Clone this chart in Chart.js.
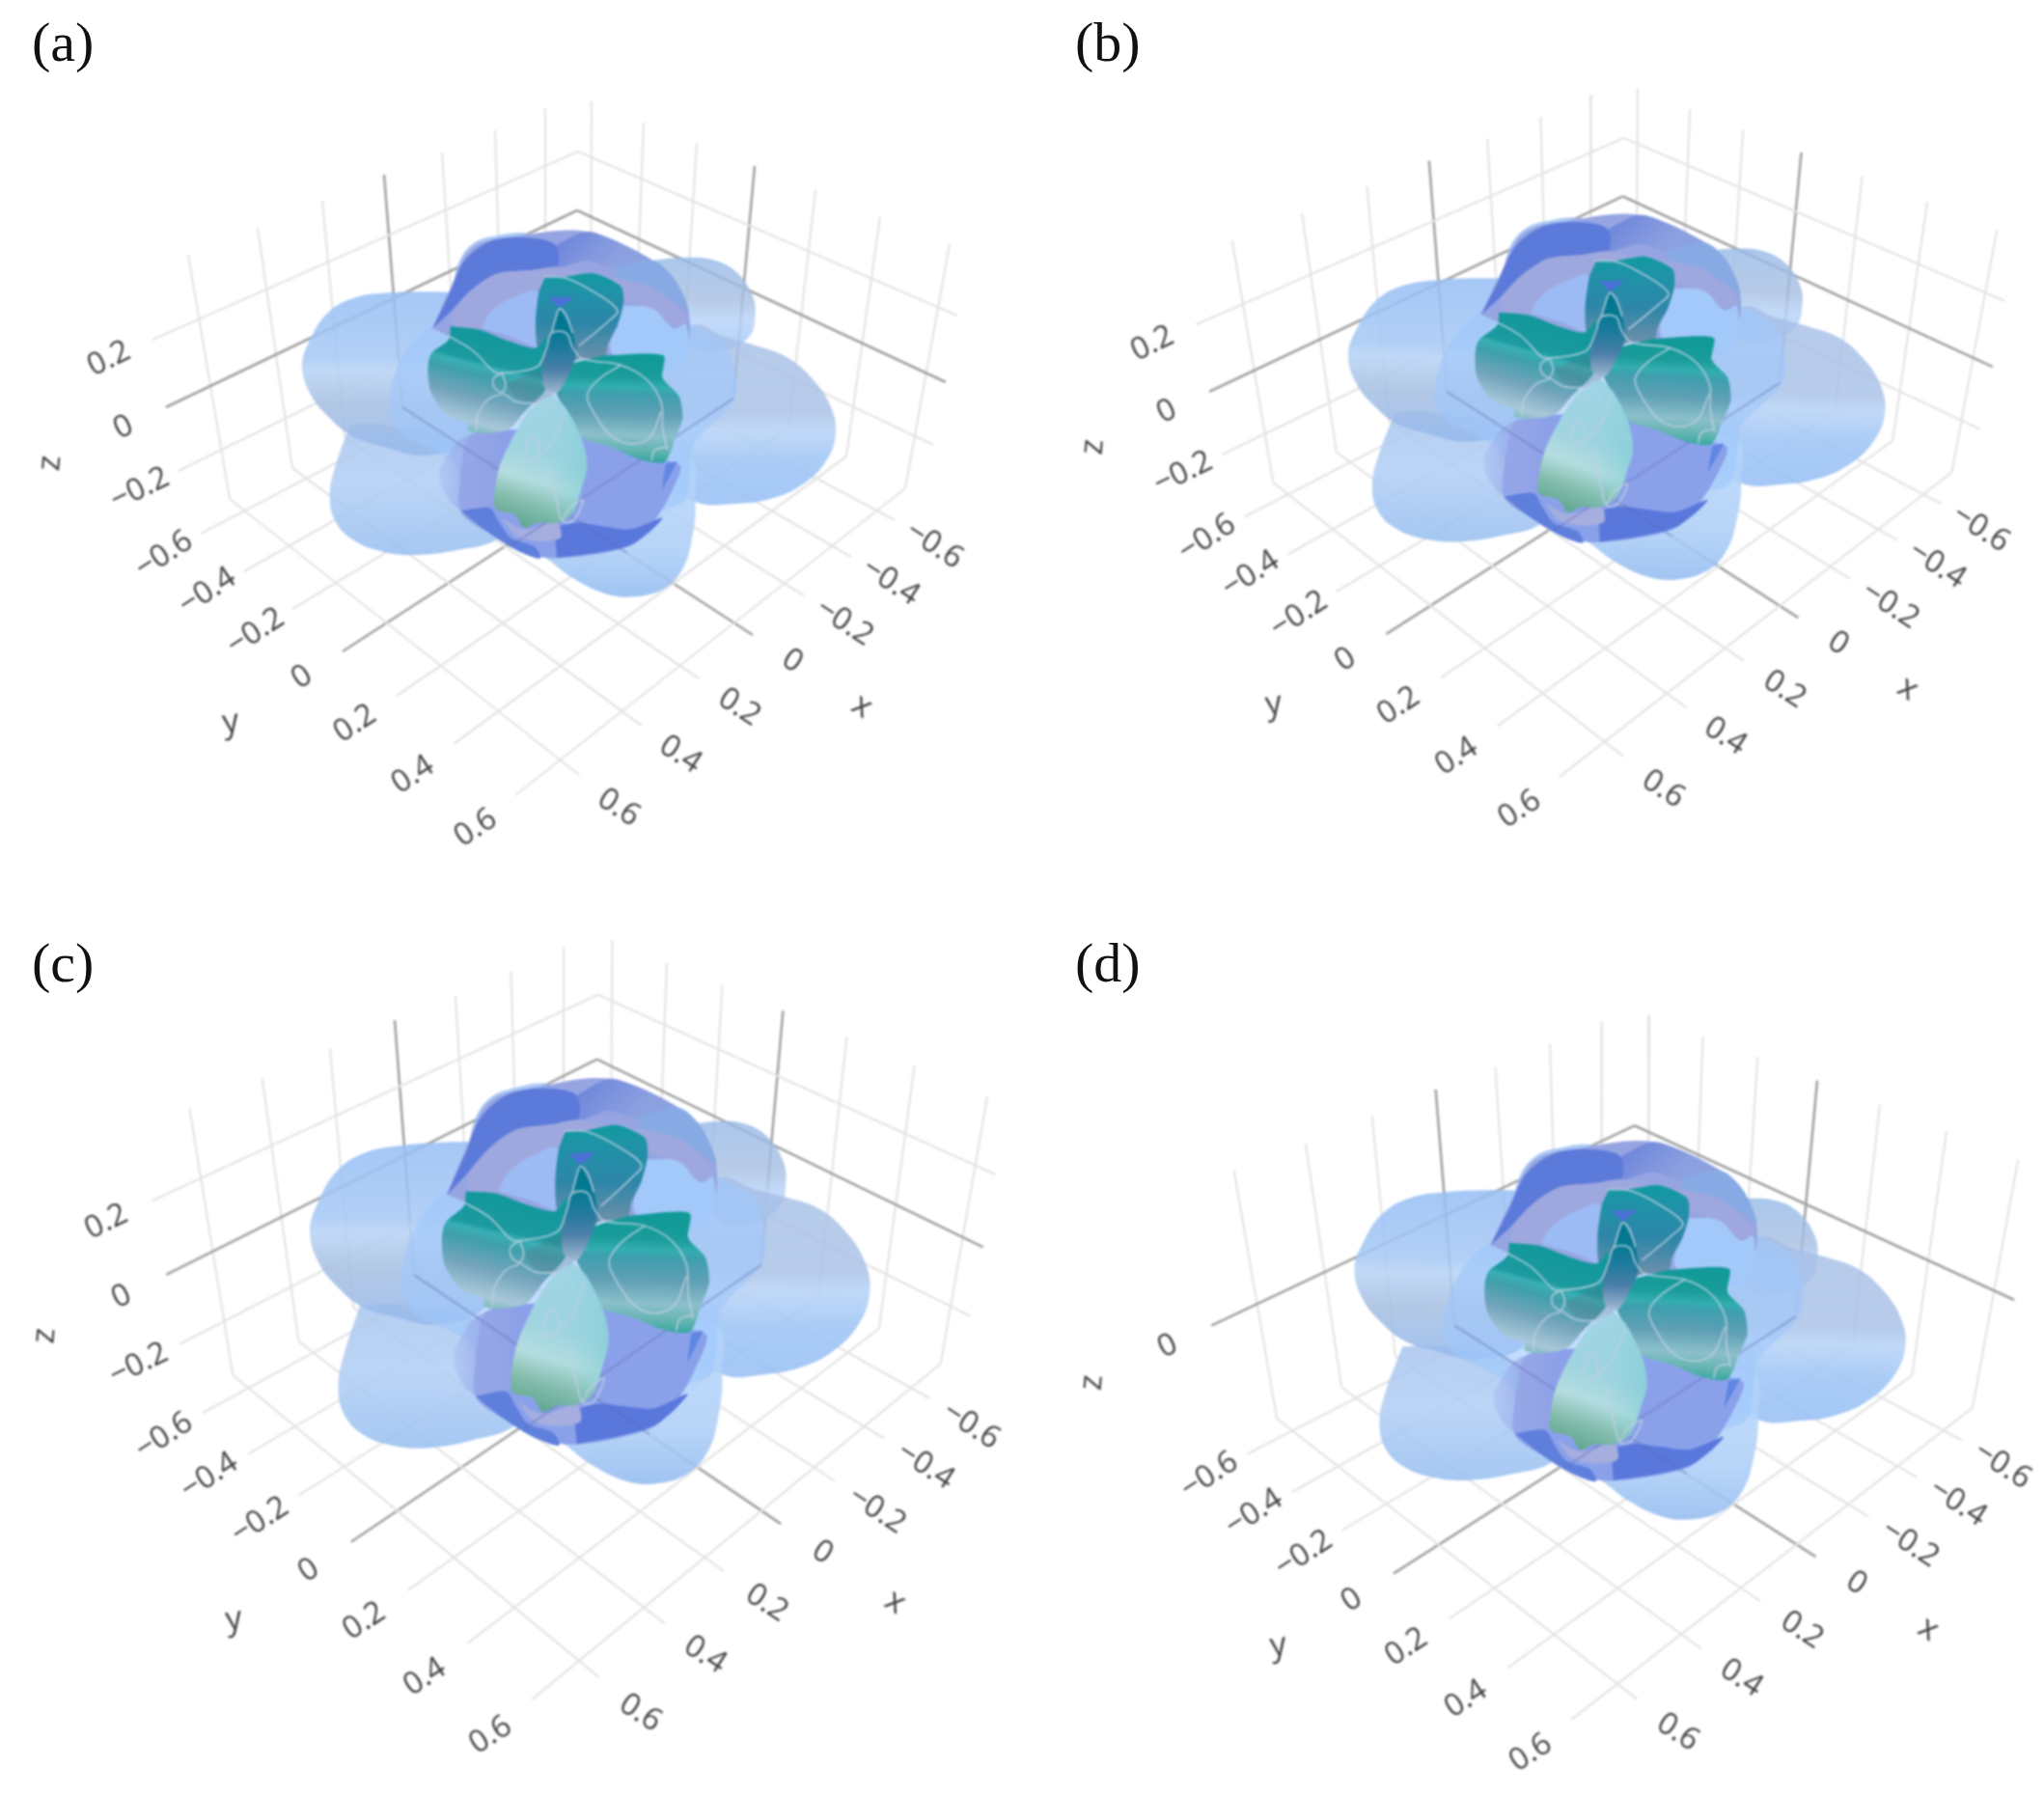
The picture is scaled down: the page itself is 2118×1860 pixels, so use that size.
<!DOCTYPE html>
<html><head><meta charset="utf-8">
<script src="https://cdn.jsdelivr.net/npm/chart.js@4/dist/chart.umd.js"></script>
<style>
html,body{margin:0;padding:0;background:#fff;width:2118px;height:1860px;overflow:hidden}
canvas{position:absolute;filter:blur(0.8px)}
.wrap{position:absolute;width:1059px;height:930px}
.tag{position:absolute;font:58px "Liberation Serif",serif;color:#111;line-height:64px}
</style></head><body>
<script>
// ---------- tick values & labels ----------
const horizontalTicks=[-0.6,-0.4,-0.2,0,0.2,0.4,0.6];
const zTicks=[0.2,0,-0.2];
const panelNames=['(a)','(b)','(c)','(d)'];
const tickText=v=>v<0?'\u2212'+Math.abs(v):String(v);

// ---------- box grid ----------
const xWallTop=[[565,112],[513,135],[458,158],[398,181],[334,208],[267,236],[195,264]];
const xCorner=[[565,345],[520,367],[473,393],[417,422],[357,453],[303,485],[238,517]];
const xEnd=[[927,539],[882,577],[833,617],[780,658],[724,703],[665,752],[600,803]];
const yWallTop=[[613,105],[667,127],[722,148],[782,172],[845,197],[912,224],[984,253]];
const yCorner=[[612,342],[658,363],[707,387],[760,413],[817,443],[877,473],[938,506]];
const yEnd=[[208,553],[253,592],[303,631],[355,675],[411,721],[470,771],[534,824]];
const zLeft=[[158,352],[172,422],[185,488]];
const zBack=[[599,157],[598,218],[597,285]];
const zRight=[[992,327],[980,396],[967,461]];
const xLabelAt=[[968,565],[923,603],[875,645],[821,685],[766,733],[705,782],[641,837]];
const yLabelAt=[[170,575],[215,613],[265,655],[313,702],[368,750],[428,803],[493,858]];
const zLabelAt=[[113,372],[128,443],[145,507]];
const titleAt={x:[893,732],y:[239,749],z:[52,480]};
const xInside=[650,573], yInside=[527,567];

// ---------- view anchors per panel: dark axis ends (L, apex, R, BL, BR, TL, TR) ----------
const gridAnchors=[
 [[172,421],[598,218],[980,396],[355,675],[780,658],[398,181],[782,172]],
 [[1254,405],[1681,204],[2064,380],[1436,656],[1864,641],[1480,167],[1868,157]],
 [[172,1320],[619,1098],[1019,1292],[364,1597],[809,1580],[409,1057],[811,1047]],
 [[1256,1372],[1694,1167],[2087,1347],[1443,1631],[1882,1613],[1487,1129],[1883,1119]]];
// lobes: left, right, top, bottom, lower-left, centre
const shapeAnchors=[
 [[313,380],[866,447],[588,240],[654,618],[342,520],[577,407]],
 [[1395,367],[1951,425],[1684,224],[1738,600],[1423,509],[1657,390]],
 [[322,1280],[901,1333],[612,1123],[680,1536],[350,1450],[595,1307]],
 [[1401,1330],[1971,1393],[1698,1185],[1755,1572],[1430,1483],[1671,1357]]];
// per-panel lobe nudges, px
const lobeNudge={
 upperRight:[[0,0],[-5,10],[0,20],[-8,33]],
 left:[[0,0],[0,0],[0,-12],[0,-18]]};

// ---------- surface outlines (traced in a 2.613x/3y crop of panel a) ----------
const topLobe=[[470,260],[480,170],[520,100],[590,72],[680,68],[760,120],[600,250],[470,260]];
const upperRightLobe=[[1000,150],[1100,140],[1180,150],[1240,190],[1280,260],[1287,320],[1272,385],[1210,425],[1120,420],[1060,300],[1000,150]];
const leftLobe=[[480,250],[400,247],[300,250],[205,265],[130,312],[80,400],[60,480],[85,570],[135,640],[195,695],[270,725],[400,755],[520,700],[560,450],[480,250]];
const rightLobe=[[1050,420],[1120,350],[1200,385],[1290,415],[1375,452],[1440,515],[1490,600],[1505,690],[1475,780],[1410,850],[1330,890],[1240,905],[1125,900],[1010,800],[1050,420]];
const lowerLeftLobe=[[190,660],[150,790],[135,880],[150,960],[200,1020],[280,1055],[370,1065],[480,1050],[590,1015],[680,900],[500,720],[280,660],[190,660]];
const bottomLobe=[[640,1020],[720,1075],[790,1135],[880,1185],[960,1195],[1040,1170],[1090,1110],[1115,1020],[1125,900],[1105,760],[850,800],[640,1020]];
const centerHalo=[[290,620],[310,500],[360,400],[420,340],[480,250],[600,200],[800,200],[1000,250],[1100,340],[1210,420],[1232,580],[1120,720],[1112,800],[1095,900],[1030,930],[1000,1000],[800,1050],[550,950],[470,780],[400,730],[330,690],[290,620]];
const shellTop=[[412,360],[460,240],[520,110],[640,75],[830,60],[1010,150],[1080,230],[1110,340],[1090,420],[900,450],[600,450],[412,360]];
const shellFade=[[750,100],[830,60],[900,85],[1010,150],[1065,205],[1000,195],[900,175],[830,150],[750,170],[750,100]];
const shellSide=[[905,170],[1010,150],[1070,210],[1108,310],[1060,270],[1000,240],[920,215],[905,170]];
const shellDark=[[415,360],[460,250],[500,150],[570,90],[660,78],[745,100],[750,170],[680,180],[590,190],[520,240],[470,300],[415,360]];
const shellLilac=[[470,300],[520,240],[590,190],[680,180],[750,170],[830,190],[1000,230],[1090,310],[1100,345],[1050,350],[980,290],[850,250],[700,245],[600,290],[540,360],[470,350],[470,300]];
const holeLeft=[[545,360],[570,310],[630,265],[700,250],[720,420],[620,385],[545,360]];
const holeRight=[[930,290],[1010,300],[1065,360],[1100,350],[1095,460],[1040,500],[900,440],[930,290]];
const shellBottom=[[490,800],[520,690],[800,690],[1045,770],[1085,790],[1060,870],[1020,950],[960,1030],[870,1060],[740,1075],[650,1055],[570,1000],[490,930],[490,800]];
const shellShade=[[430,800],[500,700],[620,710],[590,870],[560,930],[490,925],[440,860],[430,800]];
const shellDarkLow=[[750,1074],[870,1056],[960,1028],[1036,950],[950,985],[870,975],[800,965],[750,985],[750,1074]];
const shellDarkLeft=[[490,928],[530,920],[570,920],[595,965],[625,1012],[690,1040],[705,1076],[650,1055],[570,1000],[490,928]];
const shellLilacLow=[[600,950],[660,985],[750,965],[760,1012],[700,1022],[640,1005],[600,950]];
const shellStreak=[[1045,782],[1075,775],[1035,862],[1045,782]];

// ---------- inner petals (traced in a 3x crop of panel a) ----------
const petalTop=[[405,50],[470,50],[555,40],[640,80],[648,130],[630,200],[600,260],[590,300],[500,310],[470,370],[440,410],[400,380],[395,300],[380,270],[375,190],[385,100],[405,50]];
const petalLeft=[[110,205],[200,215],[290,250],[375,272],[410,240],[445,290],[430,350],[400,410],[340,470],[290,525],[200,537],[165,527],[165,505],[100,480],[50,410],[40,340],[50,290],[105,245],[110,205]];
const petalRight=[[590,295],[772,295],[770,365],[820,420],[832,490],[810,550],[775,627],[690,615],[610,580],[520,550],[480,480],[440,410],[470,330],[590,295]];
const petalBottom=[[430,420],[470,460],[520,560],[535,640],[520,700],[490,785],[440,815],[380,815],[340,830],[310,790],[250,770],[250,700],[270,620],[345,480],[395,432],[430,420]];
const stripe=[[450,150],[490,225],[500,295],[470,370],[440,412],[400,390],[398,295],[425,225],[450,150]];
const darkSpot=[[285,385],[400,340],[432,405],[390,442],[320,430],[285,385]];
const triangle=[[415,114],[492,114],[450,146],[415,114]];
const contours=[
 [[105,235],[180,280],[245,345],[270,350],[380,330],[410,270],[425,225],[470,225],[490,270],[520,305],[640,325],[720,370],[765,440],[770,520],[785,590]],
 [[270,350],[245,365],[245,392],[270,410],[282,385],[270,350]],
 [[270,415],[230,430],[195,480],[190,530]],
 [[270,410],[320,440],[395,442]],
 [[640,325],[570,370],[535,420],[560,480],[610,545],[670,570],[730,550],[765,470]],
 [[400,50],[470,55],[560,100],[630,155],[600,190],[510,265]],
 [[425,225],[440,170],[450,150],[470,170],[490,225]],
 [[735,622],[745,590],[782,580]],
 [[340,600],[360,545],[385,570],[380,610],[350,622],[340,600]],
 [[385,610],[430,560],[465,470]],
 [[415,650],[440,750],[458,810],[490,810],[522,745],[480,770],[458,810]]];

// ---------- coordinate helpers ----------
const fromCrop1=p=>[290+p[0]/2.613,220+p[1]/3];
const fromCrop3=p=>[430+p[0]/3,270+p[1]/3];
function fit(src,dst){
  const solve=k=>{
    const m=[[0,0,0,0],[0,0,0,0],[0,0,0,0]];
    src.forEach((s,i)=>{const r=[s[0],s[1],1];
      for(let a=0;a<3;a++){for(let b=0;b<3;b++)m[a][b]+=r[a]*r[b];m[a][3]+=r[a]*dst[i][k];}});
    for(let c=0;c<3;c++){let p=c;for(let r=c+1;r<3;r++)if(Math.abs(m[r][c])>Math.abs(m[p][c]))p=r;
      [m[c],m[p]]=[m[p],m[c]];
      for(let r=0;r<3;r++)if(r!==c){const f=m[r][c]/m[c][c];for(let j=c;j<4;j++)m[r][j]-=f*m[c][j];}}
    return [m[0][3]/m[0][0],m[1][3]/m[1][1],m[2][3]/m[2][2]];
  };
  const ax=solve(0),ay=solve(1);
  return p=>[ax[0]*p[0]+ax[1]*p[1]+ax[2],ay[0]*p[0]+ay[1]*p[1]+ay[2]];
}

// ---------- layer styles, bottom to top ----------
const c1=fromCrop1,c3=fromCrop3;
const layers=[
 {pts:topLobe,map:c1,color:'rgba(150,188,243,.8)',t:.4},
 {pts:upperRightLobe,map:c1,t:.4,nudge:'upperRight',g:[[1100,140],[1100,400],[[0,'rgba(150,185,232,.8)'],[.5,'rgba(165,190,225,.8)'],[.75,'rgba(186,212,248,.85)'],[1,'rgba(170,205,250,.85)']]]},
 {pts:lowerLeftLobe,map:c1,t:.4,g:[[300,690],[300,1065],[[0,'rgba(170,198,238,.85)'],[.4,'rgba(176,206,245,.85)'],[1,'rgba(150,190,240,.85)']]]},
 {pts:leftLobe,map:c1,t:.4,nudge:'left',g:[[250,250],[250,730],[[0,'rgba(150,190,245,.85)'],[.42,'rgba(165,200,245,.85)'],[.5,'rgba(182,210,245,.85)'],[.72,'rgba(165,190,225,.85)'],[1,'rgba(150,185,235,.85)']]]},
 {pts:rightLobe,map:c1,t:.4,g:[[1300,395],[1300,905],[[0,'rgba(165,190,230,.8)'],[.45,'rgba(168,192,230,.82)'],[.55,'rgba(182,210,246,.85)'],[.75,'rgba(155,195,245,.85)'],[1,'rgba(150,190,245,.85)']]]},
 {pts:bottomLobe,map:c1,t:.4,g:[[950,780],[950,1195],[[0,'rgba(180,212,250,.85)'],[.6,'rgba(175,208,248,.88)'],[1,'rgba(150,190,240,.9)']]]},
 {pts:centerHalo,map:c1,color:'rgba(160,200,252,.62)',t:.3},
 {pts:shellTop,map:c1,color:'rgb(150,165,226)',t:.35},
 {pts:shellFade,map:c1,t:.3,g:[[780,70],[880,180],[[0,'rgb(112,136,220)'],[1,'rgb(140,160,224)']]]},
 {pts:shellSide,map:c1,color:'rgb(135,170,228)',t:.3},
 {pts:shellDark,map:c1,color:'rgb(92,122,218)',t:.3},
 {pts:shellLilac,map:c1,color:'rgb(158,168,222)',t:.3},
 {pts:holeLeft,map:c1,color:'rgb(156,186,243)',t:.4},
 {pts:holeRight,map:c1,color:'rgb(163,200,250)',t:.4},
 {pts:shellBottom,map:c1,color:'rgb(138,161,234)',t:.3},
 {pts:shellShade,map:c1,t:.4,g:[[430,800],[600,800],[[0,'rgba(150,170,235,.25)'],[.5,'rgba(152,168,230,.8)'],[1,'rgba(140,160,232,1)']]]},
 {pts:shellDarkLow,map:c1,color:'rgb(90,120,220)',t:.3},
 {pts:shellDarkLeft,map:c1,color:'rgb(95,127,220)',t:.3},
 {pts:shellLilacLow,map:c1,color:'rgb(165,174,223)',t:.3},
 {pts:shellStreak,map:c1,color:'rgb(95,134,227)',t:.1},
 {pts:petalTop,map:c3,t:.25,g:[[500,40],[500,300],[[0,'#119a9f'],[.2,'#1f93a8'],[.6,'#2d86a8'],[1,'#6a8faa']]]},
 {pts:petalLeft,map:c3,t:.28,g:[[170,215],[90,530],[[0,'#12989c'],[.27,'#1c9a9f'],[.31,'#38b0b5'],[.4,'#3f9fab'],[.62,'#74a5bd'],[.85,'#a9c8d9'],[.93,'#7fbcc0'],[1,'#45a8a5']]]},
 {pts:petalRight,map:c3,t:.25,g:[[650,295],[640,625],[[0,'#109a98'],[.2,'#1a9c9b'],[.3,'#33aeb0'],[.36,'#3e9fae'],[.55,'#5fa0b5'],[.75,'#8cc0cb'],[.9,'#5fb3af'],[1,'#2da69f']]]},
 {pts:darkSpot,map:c3,color:'rgba(85,120,140,.3)',t:.4},
 {pts:stripe,map:c3,t:.25,g:[[450,150],[450,420],[[0,'#00738a'],[.25,'#047a92'],[.45,'#1c7a9c'],[.7,'#4a7fa8'],[.9,'#8aa8c6'],[1,'#a6c4d8']]]},
 {pts:triangle,map:c3,color:'#4d70d8',t:.05},
 {pts:petalBottom,map:c3,t:.3,g:[[460,420],[330,830],[[0,'#a5d6e8'],[.45,'#9fd4e1'],[.65,'#b5dde0'],[.82,'#83bcab'],[1,'#5ea58f']]]},
 {pts:petalBottom,map:c3,t:.3,g:[[300,600],[530,600],[[0,'rgba(130,205,215,0)'],[.5,'rgba(130,205,215,.08)'],[1,'rgba(125,205,212,.55)']]]}
];

// ---------- one chart per panel ----------
const origins=[[0,0],[1059,0],[0,930],[1059,930]];
const showZ=[[0,1,2],[0,1,2],[0,1,2],[1]];

const textPlugin={id:'axisText',afterDatasetsDraw(chart,_a,opts){
  const c=chart.ctx,{x:sx,y:sy}=chart.scales;
  c.save();c.fillStyle='#444';c.textAlign='center';c.textBaseline='middle';
  opts.items.forEach(it=>{
    c.save();c.translate(sx.getPixelForValue(it.at[0]),sy.getPixelForValue(it.at[1]));
    c.rotate(it.rot*Math.PI/180);c.font=(it.size||32)+'px "Open Sans"';c.fillText(it.text,0,0);c.restore();});
  c.restore();}};

function linePath(a,b,dark,view){
  return {type:'scatter',showLine:true,data:[view(a),view(b)].map(p=>({x:p[0],y:p[1]})),
    pointRadius:0,borderWidth:dark?2.6:2.2,borderColor:dark?'#a2a2a2':'#e4e4e4',fill:false,tension:0,clip:false};
}
origins.forEach((o,i)=>{
  const gridView=fit(gridAnchors[0],gridAnchors[i]);
  const shapeView=fit(shapeAnchors[0],shapeAnchors[i]);
  const back=[];
  horizontalTicks.forEach((v,k)=>{
    const d=v===0;
    back.push(linePath(xWallTop[k],xCorner[k],d,gridView),linePath(xCorner[k],xEnd[k],d,gridView));
    back.push(linePath(yWallTop[k],yCorner[k],d,gridView),linePath(yCorner[k],yEnd[k],d,gridView));
  });
  showZ[i].forEach(k=>{
    const d=zTicks[k]===0;
    back.push(linePath(zLeft[k],zBack[k],d,gridView),linePath(zBack[k],zRight[k],d,gridView));
  });
  const fills=layers.map(l=>{
    const n=l.nudge?lobeNudge[l.nudge][i]:[0,0];
    const place=p=>{const q=shapeView(l.map(p));return [q[0]+n[0],q[1]+n[1]];};
    return {type:'scatter',showLine:true,
    data:l.pts.map(p=>{const q=place(p);return {x:q[0],y:q[1]};}),
    pointRadius:0,borderWidth:0,borderColor:'rgba(0,0,0,0)',fill:'shape',tension:l.t,clip:false,
    backgroundColor:l.g?(ctx=>{
      const ch=ctx.chart,a=place(l.g[0]),b=place(l.g[1]);
      const gr=ch.ctx.createLinearGradient(a[0]-o[0],a[1]-o[1],b[0]-o[0],b[1]-o[1]);
      l.g[2].forEach(s=>gr.addColorStop(s[0],s[1]));return gr;}):l.color};});
  const contourSets=contours.map(pts=>({type:'scatter',showLine:true,
    data:pts.map(p=>{const q=shapeView(c3(p));return {x:q[0],y:q[1]};}),
    pointRadius:0,borderWidth:1.8,borderColor:'rgba(190,208,226,.8)',fill:false,tension:.35,clip:false}));
  const overlay=[linePath(xCorner[3],xInside,true,gridView),linePath(yCorner[3],yInside,true,gridView)]
    .map(d=>({...d,borderColor:'rgba(90,100,170,.28)'}));
  const ordered=[...back,...fills.slice(0,20),...overlay,...fills.slice(20),...contourSets].reverse();

  const items=[];
  horizontalTicks.forEach((v,k)=>{
    items.push({text:tickText(v),at:gridView(xLabelAt[k]),rot:33});
    items.push({text:tickText(v),at:gridView(yLabelAt[k]),rot:-33});
  });
  showZ[i].forEach(k=>items.push({text:tickText(zTicks[k]),at:gridView(zLabelAt[k]),rot:-26}));
  items.push({text:'x',at:gridView(titleAt.x),rot:33,size:34});
  items.push({text:'y',at:gridView(titleAt.y),rot:-8,size:34});
  items.push({text:'z',at:gridView(titleAt.z),rot:-85,size:34});

  const wrap=document.createElement('div');wrap.className='wrap';wrap.style.left=o[0]+'px';wrap.style.top=o[1]+'px';
  const cv=document.createElement('canvas');cv.width=1059;cv.height=930;cv.style.width='1059px';cv.style.height='930px';
  wrap.appendChild(cv);document.body.appendChild(wrap);
  const tag=document.createElement('div');tag.className='tag';tag.textContent=panelNames[i];
  tag.style.left=(i%2?55:33)+'px';tag.style.top=(i<2?12:36)+'px';wrap.appendChild(tag);
  new Chart(cv,{type:'scatter',data:{datasets:ordered},plugins:[textPlugin],options:{
    responsive:false,animation:false,events:[],layout:{padding:0},
    scales:{x:{type:'linear',display:false,min:o[0],max:o[0]+1059},
            y:{type:'linear',display:false,min:o[1],max:o[1]+930,reverse:true}},
    plugins:{legend:{display:false},tooltip:{enabled:false},axisText:{items}}}});
});
</script>
</body></html>
